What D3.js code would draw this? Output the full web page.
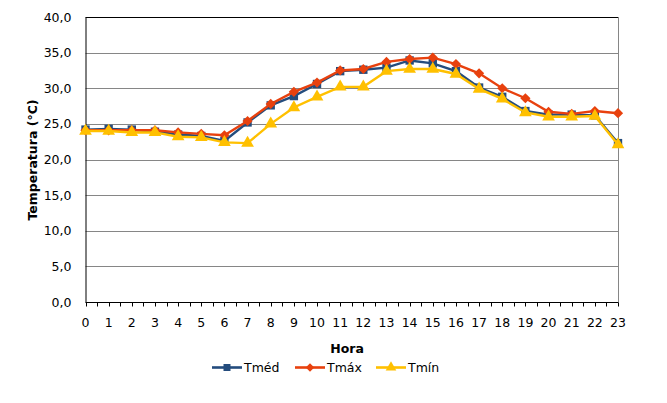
<!DOCTYPE html>
<html>
<head>
<meta charset="utf-8">
<script src="https://cdn.jsdelivr.net/npm/d3@7"></script>
<style>
  body { margin: 0; background: #fff; }
  text { font-family: "DejaVu Sans", Verdana, sans-serif; }
</style>
</head>
<body>
<div class="container"></div>
<script>
// Data
const hours = [0,1,2,3,4,5,6,7,8,9,10,11,12,13,14,15,16,17,18,19,20,21,22,23]
const tMed = [24.2,24.3,24.2,23.9,23.5,23.3,22.6,25.2,27.6,28.9,30.6,32.4,32.6,32.9,33.9,33.5,32.4,30.1,28.8,26.8,26.3,26.3,26.2,22.3]
const tMax = [24.1,24.1,24.1,24.1,23.8,23.6,23.4,25.4,27.8,29.5,30.8,32.5,32.7,33.7,34.1,34.3,33.4,32.1,30.0,28.6,26.7,26.4,26.8,26.5]
const tMin = [24.0,24.0,23.8,23.8,23.2,23.1,22.4,22.3,25.0,27.3,28.8,30.2,30.2,32.4,32.7,32.7,32.0,29.9,28.5,26.6,26.0,26.0,26.1,22.1]
const yTicks = [0,5,10,15,20,25,30,35,40]

const width = 667
const height = 403
const plot = {left: 85.5, right: 618, top: 17, bottom: 302}

const svg = d3.select(".container")
    .append("svg")
    .attr("width", width)
    .attr("height", height)

const x = d3.scalePoint()
    .domain(hours)
    .range([plot.left, plot.right])

const y = d3.scaleLinear()
    .domain([0, 40])
    .range([plot.bottom, plot.top])

const fmt = d => d3.format(".1f")(d).replace(".", ",")

// gridlines
svg.append("g")
    .selectAll("line")
    .data(yTicks.filter(d => d > 0 && d < 40))
    .enter()
    .append("line")
    .attr("x1", plot.left)
    .attr("x2", plot.right)
    .attr("y1", d => Math.round(y(d)) + 0.5)
    .attr("y2", d => Math.round(y(d)) + 0.5)
    .style("stroke", "#868686")
    .style("stroke-width", 1)

// top and right border
svg.append("line")
    .attr("x1", plot.left).attr("x2", plot.right)
    .attr("y1", plot.top + 0.5).attr("y2", plot.top + 0.5)
    .style("stroke", "#000")
svg.append("line")
    .attr("x1", plot.right + 0.5).attr("x2", plot.right + 0.5)
    .attr("y1", plot.top).attr("y2", plot.bottom)
    .style("stroke", "#868686")

// y axis
const yAxis = svg.append("g")
    .attr("transform", `translate(${plot.left}, 0)`)
    .call(d3.axisLeft(y).tickValues(yTicks).tickSize(0).tickPadding(14).tickFormat(fmt))
yAxis.select(".domain").style("stroke", "#000")
yAxis.selectAll("text").style("font-size", "12.5px").style("fill", "#000")

// x axis with half step ticks
const step = x.step()
const tickPos = d3.range(0, 47).map(i => plot.left + i * step / 2)
const xAxis = svg.append("g")
    .attr("transform", `translate(0, ${plot.bottom + 0.5})`)
xAxis.append("line")
    .attr("x1", plot.left).attr("x2", plot.right + 0.5)
    .style("stroke", "#000")
xAxis.selectAll(".tk")
    .data(tickPos)
    .enter()
    .append("line")
    .attr("class", "tk")
    .attr("x1", d => Math.round(d) + 0.5)
    .attr("x2", d => Math.round(d) + 0.5)
    .attr("y1", 0)
    .attr("y2", 4)
    .style("stroke", "#000")
xAxis.selectAll(".lbl")
    .data(hours)
    .enter()
    .append("text")
    .attr("class", "lbl")
    .attr("x", d => x(d))
    .attr("y", 24)
    .attr("text-anchor", "middle")
    .style("font-size", "12.5px")
    .text(d => d)

// axis titles
svg.append("text")
    .attr("x", 347)
    .attr("y", 353)
    .attr("text-anchor", "middle")
    .style("font-size", "12.5px")
    .style("font-weight", "bold")
    .text("Hora")

svg.append("text")
    .attr("transform", "translate(37, 160) rotate(-90)")
    .attr("text-anchor", "middle")
    .style("font-size", "12.5px")
    .style("font-weight", "bold")
    .text("Temperatura (°C)")

// series (diamond = square turned 45 degrees)
const series = [
    {name: "Tméd", values: tMed, color: "#244C7D", marker: d3.symbolSquare, size: 70, rot: 0},
    {name: "Tmáx", values: tMax, color: "#E8410E", marker: d3.symbolSquare, size: 52, rot: 45},
    {name: "Tmín", values: tMin, color: "#FFC000", marker: d3.symbolTriangle, size: 70, rot: 0}
]

const line = d3.line()
    .x((d, i) => x(hours[i]))
    .y(d => y(d))

series.forEach(s => {
    const g = svg.append("g")
    g.append("path")
        .attr("d", line(s.values))
        .style("fill", "none")
        .style("stroke", s.color)
        .style("stroke-width", 2.4)
    g.selectAll("path.mk")
        .data(s.values)
        .enter()
        .append("path")
        .attr("class", "mk")
        .attr("d", d3.symbol().type(s.marker).size(s.size))
        .attr("transform", (d, i) => `translate(${x(hours[i])}, ${y(d)}) rotate(${s.rot})`)
        .style("fill", s.color)
})

// legend
const legendX = [212, 295, 376]
const legend = svg.append("g")
    .attr("transform", "translate(0, 367.5)")
series.forEach((s, i) => {
    const g = legend.append("g")
        .attr("transform", `translate(${legendX[i]}, 0)`)
    g.append("line")
        .attr("x1", 0).attr("x2", 30)
        .style("stroke", s.color)
        .style("stroke-width", 2.6)
    g.append("path")
        .attr("d", d3.symbol().type(s.marker).size(s.size * 0.7))
        .attr("transform", `translate(15, 0) rotate(${s.rot})`)
        .style("fill", s.color)
    g.append("text")
        .attr("x", 32)
        .attr("y", 4.5)
        .style("font-size", "12.5px")
        .text(s.name)
})
</script>
</body>
</html>
